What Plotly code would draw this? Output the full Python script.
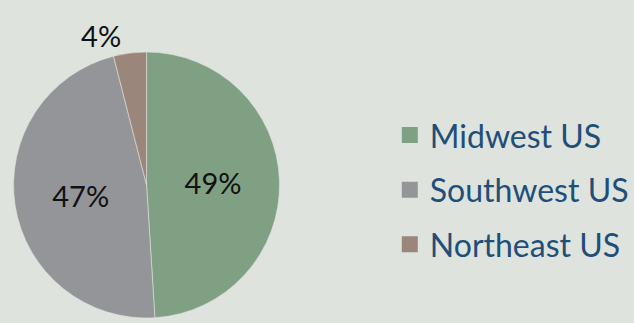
import plotly.graph_objects as go

regions = ["Midwest US", "Southwest US", "Northeast US"]
shares = [49, 47, 4]
colors = ["#7fa083", "#939598", "#9b867b"]
label_pos = ["inside", "inside", "outside"]

fig = go.Figure()
fig.add_trace(go.Pie(
    labels=regions,
    values=shares,
    sort=False,
    direction="clockwise",
    rotation=0,
    marker=dict(colors=colors, line=dict(color="#dfe3dd", width=0.6)),
    textinfo="percent",
    texttemplate="%{percent:.0%}",
    textposition=label_pos,
    insidetextorientation="horizontal",
    textfont=dict(family="Lato", size=29, color="#111111"),
    domain=dict(x=[0.01, 0.445], y=[0, 1]),
    showlegend=False,
))

# legend entries (one group per region so the gap between items can be set)
for name, col in zip(regions, colors):
    fig.add_trace(go.Scatter(
        x=[None], y=[None], mode="markers", name=name,
        legendgroup=name,
        marker=dict(symbol="square", size=18, color=col),
        showlegend=True,
    ))

fig.update_layout(
    width=634, height=323,
    margin=dict(l=0, r=0, t=52, b=0),
    paper_bgcolor="#dee3dd",
    plot_bgcolor="#dee3dd",
    xaxis=dict(visible=False),
    yaxis=dict(visible=False),
    showlegend=True,
    legend=dict(
        x=0.613, xanchor="left", y=0.482, yanchor="middle",
        font=dict(family="Lato", size=32, color="#1f4e79"),
        bgcolor="rgba(0,0,0,0)",
        tracegroupgap=10,
        itemsizing="trace",
    ),
)

fig.write_html("out.html")
